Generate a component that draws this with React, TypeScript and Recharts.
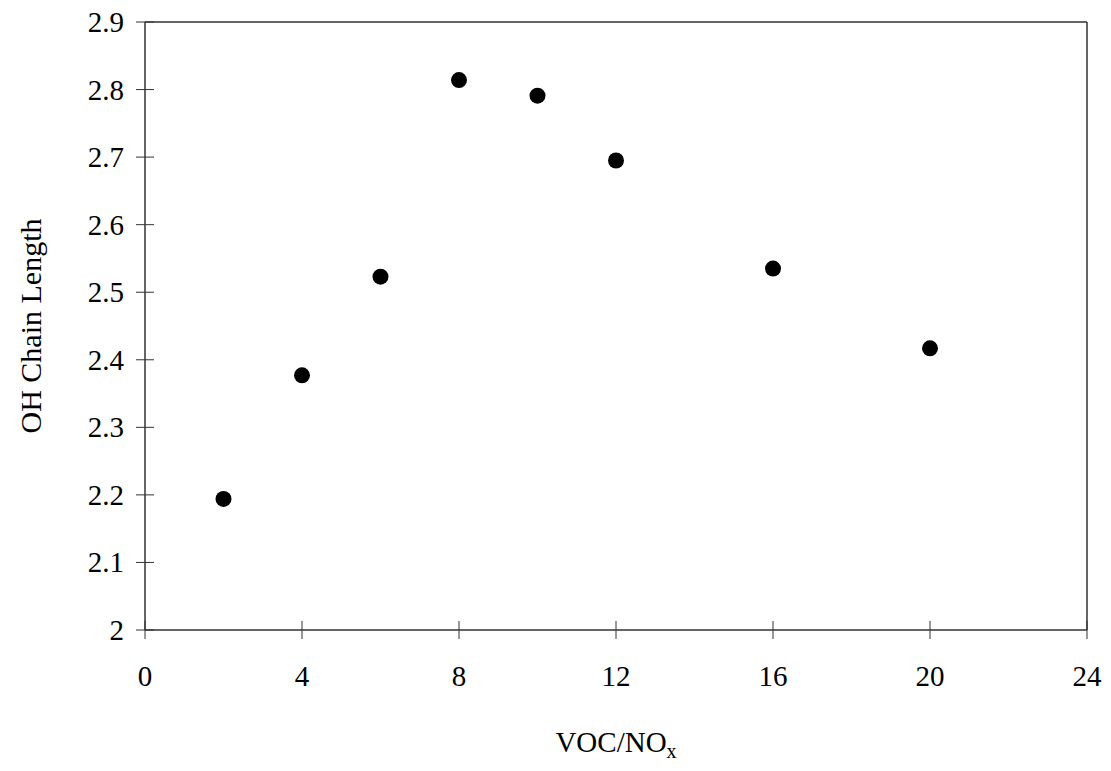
import React from "react";
import {
  ScatterChart,
  Scatter,
  XAxis,
  YAxis,
  ReferenceLine,
} from "recharts";

const vocNox = [2, 4, 6, 8, 10, 12, 16, 20];
const chainLength = [2.194, 2.377, 2.523, 2.814, 2.791, 2.695, 2.535, 2.417];
const xTicks = [0, 4, 8, 12, 16, 20, 24];
const yTicks = [2, 2.1, 2.2, 2.3, 2.4, 2.5, 2.6, 2.7, 2.8, 2.9];

const data = vocNox.map((x, i) => ({ x, y: chainLength[i] }));

const FONT = "'Liberation Serif', 'Times New Roman', serif";
const AXIS = "#333";

function YTick({ x, y, payload }: any) {
  const ax = x + 21;
  return (
    <g>
      <line x1={ax - 9} x2={ax + 9} y1={y} y2={y} stroke={AXIS} strokeWidth={1} />
      <text x={x} y={y + 10} textAnchor="end" fontFamily={FONT} fontSize={29} fill="#000">
        {payload.value}
      </text>
    </g>
  );
}

function XTick({ x, y, payload }: any) {
  const ay = y - 21;
  return (
    <g>
      <line x1={x} x2={x} y1={ay - 9} y2={ay + 9} stroke={AXIS} strokeWidth={1} />
      <text x={x} y={ay + 56} textAnchor="middle" fontFamily={FONT} fontSize={29} fill="#000">
        {payload.value}
      </text>
    </g>
  );
}

function Dot({ cx, cy }: any) {
  return <circle cx={cx} cy={cy} r={8} fill="#000" />;
}

export default function App() {
  return (
    <div style={{ position: "absolute", left: 0, top: 0, background: "#fff" }}>
      <ScatterChart width={1111} height={771} margin={{ top: 22, right: 24, left: 0, bottom: 0 }}>
        <XAxis
          type="number"
          dataKey="x"
          domain={[0, 24]}
          ticks={xTicks}
          interval={0}
          height={141}
          tickSize={9}
          tickMargin={12}
          tickLine={false}
          axisLine={{ stroke: AXIS, strokeWidth: 1.5 }}
          tick={<XTick />}
          label={{
            content: ({ viewBox }: any) => (
              <text
                x={viewBox.x + viewBox.width / 2}
                y={752}
                textAnchor="middle"
                fontFamily={FONT}
                fontSize={29}
                fill="#000"
              >
                VOC/NO
                <tspan fontSize={20} dy={6}>x</tspan>
              </text>
            ),
          }}
        />
        <YAxis
          type="number"
          dataKey="y"
          domain={[2, 2.9]}
          ticks={yTicks}
          interval={0}
          width={145}
          tickSize={9}
          tickMargin={12}
          tickLine={false}
          axisLine={{ stroke: AXIS, strokeWidth: 1.5 }}
          tick={<YTick />}
          label={{
            content: ({ viewBox }: any) => {
              const cy = viewBox.y + viewBox.height / 2;
              return (
                <text
                  x={30}
                  y={cy}
                  transform={`rotate(-90, 30, ${cy})`}
                  textAnchor="middle"
                  dominantBaseline="central"
                  fontFamily={FONT}
                  fontSize={30}
                  fill="#000"
                >
                  OH Chain Length
                </text>
              );
            },
          }}
        />
        <ReferenceLine y={2.9} stroke={AXIS} strokeWidth={1.5} />
        <ReferenceLine x={24} stroke={AXIS} strokeWidth={1.5} />
        <Scatter data={data} fill="#000" shape={<Dot />} isAnimationActive={false} />
      </ScatterChart>
    </div>
  );
}
